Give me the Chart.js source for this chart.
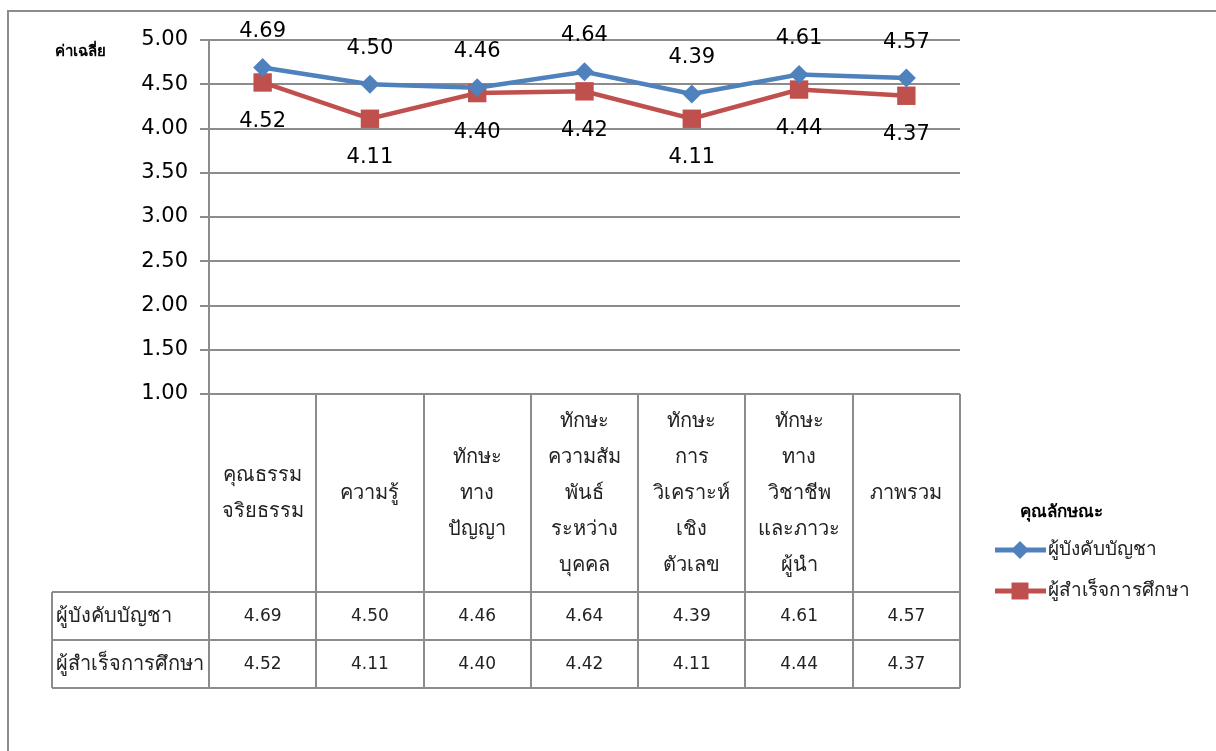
<!DOCTYPE html>
<html>
<head>
<meta charset="utf-8">
<script src="https://cdn.jsdelivr.net/npm/chart.js@4/dist/chart.umd.min.js"></script>
<style>
html,body{margin:0;padding:0;background:#fff;}
#wrap{width:1216px;height:751px;position:relative;}
</style>
</head>
<body>
<div id="wrap"><canvas id="c" width="1216" height="751"></canvas></div>
<script>
const categories = [
  ["คุณธรรม","จริยธรรม"],
  ["ความรู้"],
  ["ทักษะ","ทาง","ปัญญา"],
  ["ทักษะ","ความสัม","พันธ์","ระหว่าง","บุคคล"],
  ["ทักษะ","การ","วิเคราะห์","เชิง","ตัวเลข"],
  ["ทักษะ","ทาง","วิชาชีพ","และภาวะ","ผู้นำ"],
  ["ภาพรวม"]
];
const seriesNames = ["ผู้บังคับบัญชา", "ผู้สำเร็จการศึกษา"];
const supervisors = [4.69, 4.50, 4.46, 4.64, 4.39, 4.61, 4.57];
const graduates = [4.52, 4.11, 4.40, 4.42, 4.11, 4.44, 4.37];
const yTicks = [1.00, 1.50, 2.00, 2.50, 3.00, 3.50, 4.00, 4.50, 5.00];
const yTitle = "ค่าเฉลี่ย";
const legendTitle = "คุณลักษณะ";

const FONT = "Tahoma, 'Noto Sans', 'DejaVu Sans', sans-serif";
const NUM = "'DejaVu Sans', sans-serif";
const BLUE = "#4F81BD", RED = "#C0504D", GRID = "#8c8c8c";

const decor = {
  id: "decor",
  beforeDraw(chart) {
    const ctx = chart.ctx;
    ctx.save();
    ctx.fillStyle = "#fff";
    ctx.fillRect(0, 0, chart.width, chart.height);
    ctx.strokeStyle = "#8c8c8c";
    ctx.lineWidth = 2;
    ctx.strokeRect(8, 11, 1300, 900);
    ctx.restore();
  },
  afterDatasetsDraw(chart) {
    const ctx = chart.ctx;
    const ca = chart.chartArea;
    const xs = chart.scales.x;
    const n = categories.length;
    const half = (xs.getPixelForValue(1) - xs.getPixelForValue(0)) / 2;
    const hTop = ca.bottom, hBot = ca.bottom + 198, r1 = hBot + 48, r2 = r1 + 48;
    const labelLeft = 52;
    ctx.save();
    // data labels
    ctx.font = "21px " + NUM;
    ctx.fillStyle = "#000";
    ctx.textAlign = "center";
    ctx.textBaseline = "middle";
    chart.getDatasetMeta(0).data.forEach((p, i) => {
      ctx.fillText(supervisors[i].toFixed(2), p.x, p.y - 36);
    });
    chart.getDatasetMeta(1).data.forEach((p, i) => {
      ctx.fillText(graduates[i].toFixed(2), p.x, p.y + 39);
    });
    // table lines
    ctx.strokeStyle = GRID;
    ctx.lineWidth = 2;
    ctx.beginPath();
    for (let i = 0; i <= n; i++) {
      const x = Math.round(i === n ? xs.getPixelForValue(n - 1) + half : xs.getPixelForValue(i) - half);
      ctx.moveTo(x, hTop); ctx.lineTo(x, r2);
    }
    ctx.moveTo(ca.left, hTop); ctx.lineTo(ca.right, hTop);
    ctx.moveTo(labelLeft, hBot); ctx.lineTo(ca.right, hBot);
    ctx.moveTo(labelLeft, r1); ctx.lineTo(ca.right, r1);
    ctx.moveTo(labelLeft, r2); ctx.lineTo(ca.right, r2);
    ctx.moveTo(labelLeft, hBot); ctx.lineTo(labelLeft, r2);
    ctx.stroke();
    // category labels
    ctx.fillStyle = "#222";
    const hc = (hTop + hBot) / 2;
    categories.forEach((lines, i) => {
      const x = xs.getPixelForValue(i);
      const start = hc - (lines.length - 1) * 36 / 2;
      ctx.font = "20px " + FONT;
      lines.forEach((t, k) => ctx.fillText(t, x, start + k * 36));
      ctx.font = "17px " + NUM;
      ctx.fillText(supervisors[i].toFixed(2), x, (hBot + r1) / 2 + 1);
      ctx.fillText(graduates[i].toFixed(2), x, (r1 + r2) / 2 + 1);
    });
    ctx.textAlign = "left";
    ctx.font = "20px " + FONT;
    ctx.fillText(seriesNames[0], labelLeft + 4, (hBot + r1) / 2);
    ctx.fillText(seriesNames[1], labelLeft + 4, (r1 + r2) / 2);
    // y title
    ctx.font = "bold 15px " + FONT;
    ctx.fillStyle = "#000";
    ctx.fillText(yTitle, 55, 52);
    // legend
    ctx.font = "bold 17px " + FONT;
    ctx.fillText(legendTitle, 1020, 512);
    ctx.font = "19px " + FONT;
    const items = [[BLUE, "rectRot", 9], [RED, "rect", 12]];
    items.forEach((it, k) => {
      const y = 550 + k * 41;
      ctx.strokeStyle = it[0];
      ctx.lineWidth = 5;
      ctx.beginPath(); ctx.moveTo(995, y); ctx.lineTo(1046, y); ctx.stroke();
      ctx.fillStyle = it[0];
      Chart.helpers.drawPoint(ctx, {pointStyle: it[1], radius: it[2], borderWidth: 0}, 1020, y);
      ctx.fillStyle = "#222";
      ctx.fillText(seriesNames[k], 1048, y);
    });
    ctx.restore();
  }
};

new Chart(document.getElementById("c"), {
  type: "line",
  data: {
    labels: categories.map(c => c.join(" ")),
    datasets: [
      { label: seriesNames[0], data: supervisors, borderColor: BLUE, backgroundColor: BLUE,
        borderWidth: 4.5, pointStyle: "rectRot", pointRadius: 9.5, pointHoverRadius: 9.5,
        pointBorderWidth: 0, tension: 0 },
      { label: seriesNames[1], data: graduates, borderColor: RED, backgroundColor: RED,
        borderWidth: 4.5, pointStyle: "rect", pointRadius: 13, pointHoverRadius: 13,
        pointBorderWidth: 0, tension: 0 }
    ]
  },
  options: {
    responsive: false,
    animation: false,
    devicePixelRatio: 1,
    layout: { padding: { left: 0, top: 40, right: 256, bottom: 357 } },
    plugins: { legend: { display: false }, tooltip: { enabled: false } },
    scales: {
      x: { display: false, offset: true, grid: { display: false } },
      y: {
        min: 1, max: 5,
        afterFit(s) { s.width = 209; },
        afterBuildTicks(s) { s.ticks = yTicks.map(v => ({ value: v })); },
        ticks: { font: { size: 21, family: NUM }, color: "#000", padding: 12,
                 callback: v => Number(v).toFixed(2) },
        grid: { color: GRID, lineWidth: 2, tickLength: 9, drawTicks: true },
        border: { display: true, color: GRID, width: 2 }
      }
    }
  },
  plugins: [decor]
});
</script>
</body>
</html>
